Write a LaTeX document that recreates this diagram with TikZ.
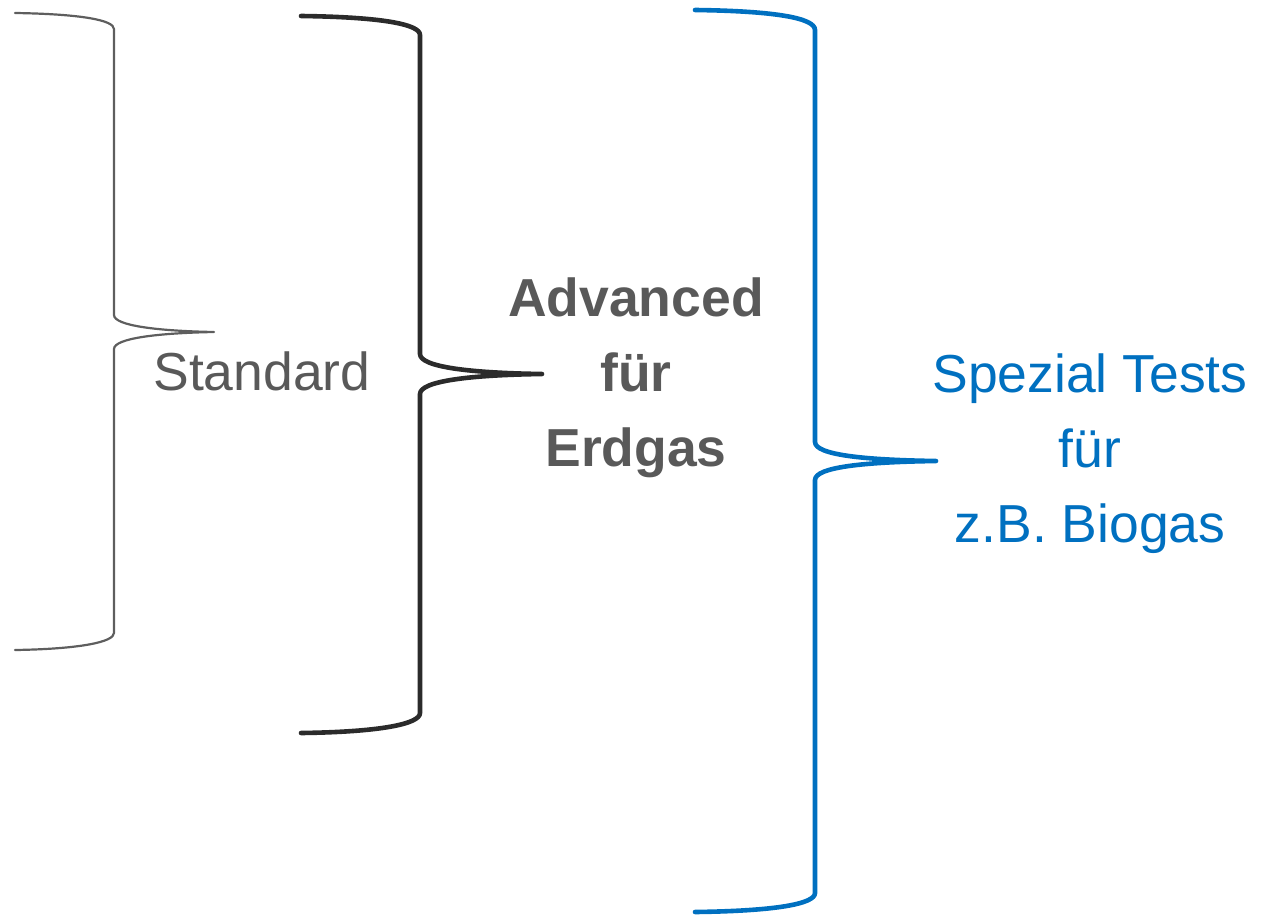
\documentclass[tikz,border=0pt]{standalone}
\usepackage{fontspec}
\setmainfont{Liberation Sans}
\definecolor{stdgray}{HTML}{5E5E5E}
\definecolor{txtgray}{HTML}{595959}
\definecolor{advdark}{HTML}{2B2B2B}
\definecolor{specblue}{HTML}{0070C0}
\begin{document}
\begin{tikzpicture}[x=1pt,y=-1pt,
  bracestd/.style={draw=stdgray,line width=2.2pt,line cap=round,line join=round},
  braceadv/.style={draw=advdark,line width=4.6pt,line cap=round,line join=round},
  bracespec/.style={draw=specblue,line width=4.6pt,line cap=round,line join=round},
  label/.style={align=center,inner sep=0pt,font=\fontsize{53.5}{75}\selectfont}]
\useasboundingbox (0,0) rectangle (1266,915);

% Standard brace
\coordinate (s1) at (15,13);
\coordinate (stip) at (214,332);
\coordinate (s2) at (15,650);
\draw[bracestd] (s1) .. controls (80,14) and (114,20) .. (114,29) -- (114,315)
  .. controls (114,326) and (160,331) .. (stip)
  .. controls (160,333) and (114,338) .. (114,349) -- (114,633)
  .. controls (114,642) and (80,649) .. (s2);
\node[label,text=txtgray] (standard) at (262,371) {Standard};

% Advanced brace
\coordinate (a1) at (301,16);
\coordinate (atip) at (542,374);
\coordinate (a2) at (301,733);
\draw[braceadv] (a1) .. controls (380,17) and (420,24) .. (420,35) -- (420,354)
  .. controls (420,367) and (470,373) .. (atip)
  .. controls (470,375) and (420,381) .. (420,394) -- (420,713)
  .. controls (420,724) and (380,732) .. (a2);
\node[label,text=txtgray,font=\fontsize{53.5}{75}\selectfont\bfseries] (advanced) at (636,378)
  {Advanced\\für\\Erdgas};

% Special brace
\coordinate (b1) at (695,10);
\coordinate (btip) at (936,461);
\coordinate (b2) at (695,912);
\draw[bracespec] (b1) .. controls (775,11) and (815,18) .. (815,30) -- (815,442)
  .. controls (815,455) and (865,460) .. (btip)
  .. controls (865,462) and (815,467) .. (815,480) -- (815,893)
  .. controls (815,904) and (775,911) .. (b2);
\node[label,text=specblue] (spezial) at (1090,454)
  {Spezial Tests\\für\\z.B. Biogas};
\end{tikzpicture}
\end{document}
